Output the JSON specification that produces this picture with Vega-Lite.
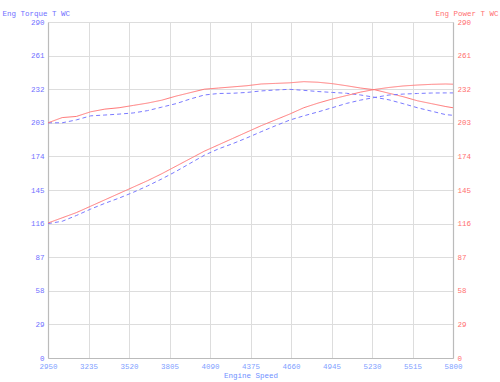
{
  "$schema": "https://vega.github.io/schema/vega-lite/v6.json",
  "width": 405,
  "height": 336,
  "autosize": {"type": "none"},
  "padding": {"left": 48, "top": 22, "right": 47, "bottom": 24},
  "background": "white",
  "config": {
    "view": {"stroke": null},
    "font": "Liberation Mono",
    "axis": {"labelFont": "Liberation Mono", "titleFont": "Liberation Mono", "labelFontSize": 7.5, "titleFontSize": 7.5, "titleFontWeight": "normal", "gridColor": "#dddddd", "gridWidth": 1, "domainColor": "#bbbbbb", "domainWidth": 1.2, "ticks": false, "labelPadding": 4}
  },
  "datasets": {
    "runs": [
      {"rpm": 2950, "run": "B", "tq": 203, "pw": 116},
      {"rpm": 3050, "run": "B", "tq": 203, "pw": 118},
      {"rpm": 3150, "run": "B", "tq": 205.5, "pw": 123},
      {"rpm": 3250, "run": "B", "tq": 209, "pw": 128.5},
      {"rpm": 3350, "run": "B", "tq": 209.7, "pw": 133.5},
      {"rpm": 3450, "run": "B", "tq": 210.5, "pw": 138},
      {"rpm": 3550, "run": "B", "tq": 211.5, "pw": 143},
      {"rpm": 3650, "run": "B", "tq": 213.5, "pw": 148.5},
      {"rpm": 3750, "run": "B", "tq": 216.5, "pw": 154.5},
      {"rpm": 3850, "run": "B", "tq": 219.5, "pw": 161},
      {"rpm": 3950, "run": "B", "tq": 223.5, "pw": 168},
      {"rpm": 4050, "run": "B", "tq": 227, "pw": 175},
      {"rpm": 4150, "run": "B", "tq": 228.3, "pw": 180.5},
      {"rpm": 4250, "run": "B", "tq": 228.5, "pw": 185},
      {"rpm": 4350, "run": "B", "tq": 229.2, "pw": 190},
      {"rpm": 4450, "run": "B", "tq": 230.5, "pw": 195.3},
      {"rpm": 4550, "run": "B", "tq": 231.3, "pw": 200.4},
      {"rpm": 4650, "run": "B", "tq": 231.9, "pw": 205.3},
      {"rpm": 4750, "run": "B", "tq": 231, "pw": 209},
      {"rpm": 4850, "run": "B", "tq": 230, "pw": 212.4},
      {"rpm": 4950, "run": "B", "tq": 229.2, "pw": 216},
      {"rpm": 5050, "run": "B", "tq": 228.5, "pw": 219.7},
      {"rpm": 5150, "run": "B", "tq": 227, "pw": 222.6},
      {"rpm": 5250, "run": "B", "tq": 225, "pw": 224.9},
      {"rpm": 5350, "run": "B", "tq": 222.8, "pw": 227},
      {"rpm": 5450, "run": "B", "tq": 219.5, "pw": 227.8},
      {"rpm": 5550, "run": "B", "tq": 216, "pw": 228.3},
      {"rpm": 5650, "run": "B", "tq": 213, "pw": 228.7},
      {"rpm": 5750, "run": "B", "tq": 210, "pw": 228.8},
      {"rpm": 5800, "run": "B", "tq": 209.5, "pw": 228.8},
      {"rpm": 2950, "run": "A", "tq": 203, "pw": 116.5},
      {"rpm": 3050, "run": "A", "tq": 207.5, "pw": 121},
      {"rpm": 3150, "run": "A", "tq": 208.5, "pw": 125.5},
      {"rpm": 3250, "run": "A", "tq": 212.5, "pw": 131},
      {"rpm": 3350, "run": "A", "tq": 214.8, "pw": 136.5},
      {"rpm": 3450, "run": "A", "tq": 216, "pw": 142},
      {"rpm": 3550, "run": "A", "tq": 218, "pw": 147.5},
      {"rpm": 3650, "run": "A", "tq": 220, "pw": 153},
      {"rpm": 3750, "run": "A", "tq": 222.5, "pw": 159},
      {"rpm": 3850, "run": "A", "tq": 226, "pw": 165.5},
      {"rpm": 3950, "run": "A", "tq": 229, "pw": 172},
      {"rpm": 4050, "run": "A", "tq": 232, "pw": 178.5},
      {"rpm": 4150, "run": "A", "tq": 233, "pw": 184},
      {"rpm": 4250, "run": "A", "tq": 234, "pw": 189.5},
      {"rpm": 4350, "run": "A", "tq": 235, "pw": 195},
      {"rpm": 4450, "run": "A", "tq": 236.5, "pw": 200.5},
      {"rpm": 4550, "run": "A", "tq": 237, "pw": 205.5},
      {"rpm": 4650, "run": "A", "tq": 237.5, "pw": 210.5},
      {"rpm": 4750, "run": "A", "tq": 238.5, "pw": 216},
      {"rpm": 4850, "run": "A", "tq": 238, "pw": 220},
      {"rpm": 4950, "run": "A", "tq": 236.8, "pw": 223.5},
      {"rpm": 5050, "run": "A", "tq": 235, "pw": 226.5},
      {"rpm": 5150, "run": "A", "tq": 233, "pw": 229.5},
      {"rpm": 5250, "run": "A", "tq": 231.5, "pw": 231.8},
      {"rpm": 5350, "run": "A", "tq": 228.5, "pw": 233.5},
      {"rpm": 5450, "run": "A", "tq": 225.5, "pw": 234.8},
      {"rpm": 5550, "run": "A", "tq": 222, "pw": 235.6},
      {"rpm": 5650, "run": "A", "tq": 219.5, "pw": 236.2},
      {"rpm": 5750, "run": "A", "tq": 217, "pw": 236.5},
      {"rpm": 5800, "run": "A", "tq": 216, "pw": 236.3}
    ]
  },
  "data": {"name": "runs"},
  "encoding": {
    "x": {
      "field": "rpm", "type": "quantitative",
      "scale": {"domain": [2950, 5800], "nice": false, "zero": false},
      "axis": {"values": [2950, 3235, 3520, 3805, 4090, 4375, 4660, 4945, 5230, 5515, 5800], "format": "d", "title": "Engine Speed", "labelColor": "#7f9fff", "titleColor": "#6f8fff", "titlePadding": 2, "labelFlush": false}
    },
    "color": {"field": "run", "type": "nominal", "scale": {"domain": ["A", "B"], "range": ["#ff7777", "#7a7aff"]}, "legend": null},
    "strokeDash": {"field": "run", "type": "nominal", "scale": {"domain": ["A", "B"], "range": [[1, 0], [4, 3]]}, "legend": null}
  },
  "layer": [
    {
      "mark": {"type": "line", "strokeWidth": 1},
      "encoding": {
        "y": {
          "field": "tq", "type": "quantitative",
          "scale": {"domain": [0, 290], "nice": false},
          "axis": {"orient": "left", "values": [0, 29, 58, 87, 116, 145, 174, 203, 232, 261, 290], "title": "Eng Torque T WC", "titleAngle": 0, "titleAlign": "left", "titleBaseline": "middle", "titleX": -46, "titleY": -9, "labelColor": "#7070ff", "titleColor": "#7070ff", "labelFlush": false}
        }
      }
    },
    {
      "mark": {"type": "line", "strokeWidth": 1},
      "encoding": {
        "y": {
          "field": "pw", "type": "quantitative",
          "scale": {"domain": [0, 290], "nice": false},
          "axis": {"orient": "right", "values": [0, 29, 58, 87, 116, 145, 174, 203, 232, 261, 290], "grid": false, "title": "Eng Power T WC", "titleAngle": 0, "titleAlign": "right", "titleBaseline": "middle", "titleX": 45, "titleY": -9, "labelColor": "#ff7070", "titleColor": "#ff7070", "labelFlush": false}
        }
      }
    }
  ],
  "resolve": {"scale": {"y": "independent"}}
}
